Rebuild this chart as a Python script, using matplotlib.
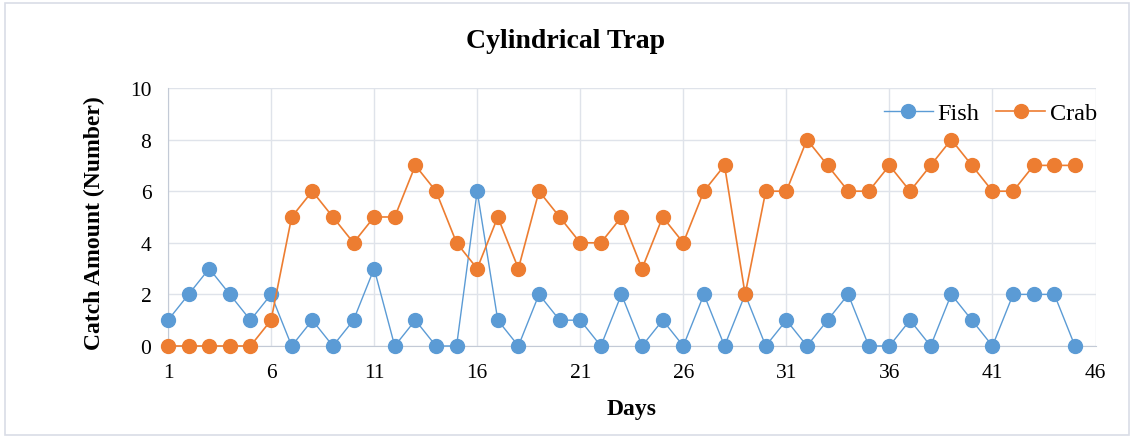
import matplotlib.pyplot as plt
from matplotlib.patches import Rectangle

days = list(range(1, 46))
fish = [1, 2, 3, 2, 1, 2, 0, 1, 0, 1, 3, 0, 1, 0, 0, 6, 1, 0, 2, 1, 1, 0, 2, 0, 1,
        0, 2, 0, 2, 0, 1, 0, 1, 2, 0, 0, 1, 0, 2, 1, 0, 2, 2, 2, 0]
crab = [0, 0, 0, 0, 0, 1, 5, 6, 5, 4, 5, 5, 7, 6, 4, 3, 5, 3, 6, 5, 4, 4, 5, 3, 5,
        4, 6, 7, 2, 6, 6, 8, 7, 6, 6, 7, 6, 7, 8, 7, 6, 6, 7, 7, 7]
x_ticks = [1, 6, 11, 16, 21, 26, 31, 36, 41, 46]
y_ticks = [0, 2, 4, 6, 8, 10]

plt.rcParams['font.family'] = ['Liberation Serif', 'DejaVu Serif']

fig = plt.figure(figsize=(11.32, 4.39), dpi=100)
ax = fig.add_axes([0.1484, 0.2096, 0.8194, 0.5877])

# chart area border
fig.patches.append(Rectangle((0.004, 0.006), 0.993, 0.985, transform=fig.transFigure,
                             fill=False, edgecolor='#d9dde6', linewidth=1.2))

ax.plot(days, fish, color='#5B9BD5', linewidth=1.0, marker='o', markersize=10,
        markeredgecolor='#5B9BD5', label='Fish', zorder=3, clip_on=False)
ax.plot(days, crab, color='#ED7D31', linewidth=1.2, marker='o', markersize=10,
        markeredgecolor='#ED7D31', label='Crab', zorder=4, clip_on=False)

ax.set_xlim(1, 46)
ax.set_ylim(0, 10)
ax.set_xticks(x_ticks)
ax.set_yticks(y_ticks)
ax.tick_params(length=0, labelsize=15.5)
ax.tick_params(axis='x', pad=12)
ax.tick_params(axis='y', pad=12)
ax.grid(True, color='#dfe3ea', linewidth=1.0)
ax.set_axisbelow(True)
for side in ['top', 'right']:
    ax.spines[side].set_visible(False)
for side in ['left', 'bottom']:
    ax.spines[side].set_color('#c3cad6')

ax.set_xlabel('Days', fontsize=17, fontweight='bold', va='center')
ax.xaxis.set_label_coords(0.5, -0.244)
ax.set_ylabel('Catch Amount (Number)', fontsize=17, fontweight='bold', va='center')
ax.yaxis.set_label_coords(-0.079, 0.48)
fig.text(0.5, 0.905, 'Cylindrical Trap', ha='center', va='center',
         fontsize=20, fontweight='bold')

ax.legend(loc='upper right', bbox_to_anchor=(1.02, 1.01), ncol=2, frameon=False,
          fontsize=17.5, handlelength=2.0, columnspacing=0.7, handletextpad=0.2,
          borderpad=0.2)

fig.savefig('out.png', dpi=100)
